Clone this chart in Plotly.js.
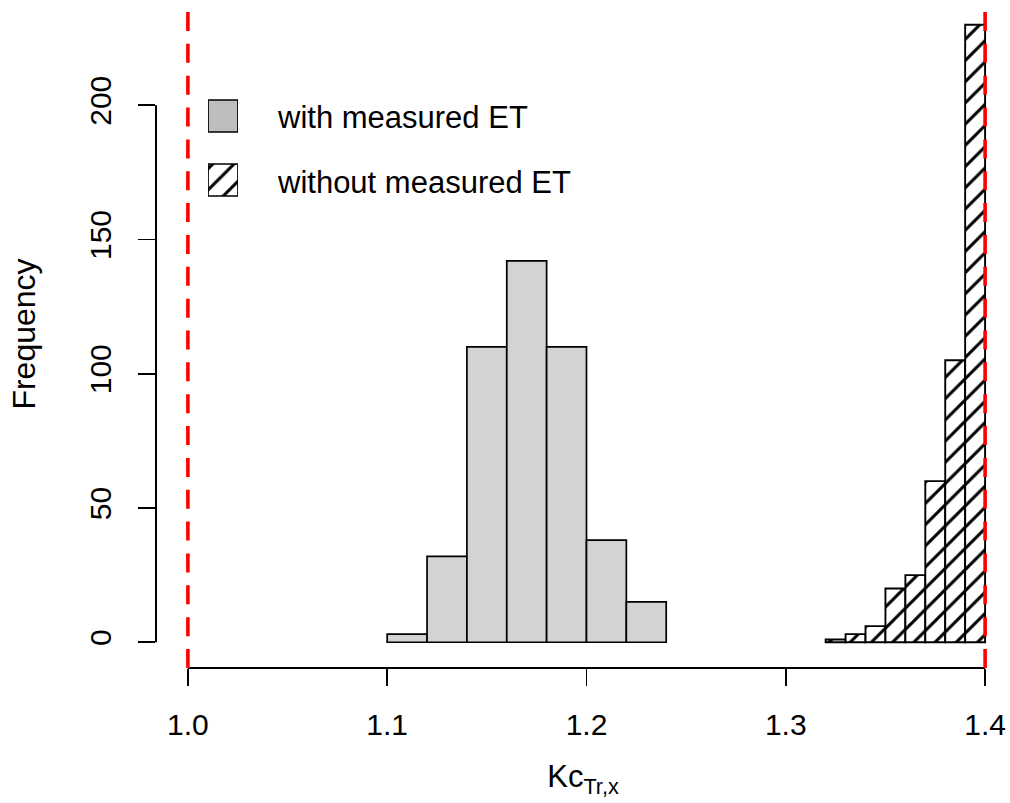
<!DOCTYPE html>
<html>
<head>
<meta charset="utf-8">
<script src="https://cdn.plot.ly/plotly-3.0.1.min.js"></script>
<style>html,body{margin:0;padding:0;background:#fff;}#chart{width:1010px;height:803px;}</style>
</head>
<body>
<div id="chart"></div>
<script>
// ---- data ----
const withBreaks = [1.10, 1.12, 1.14, 1.16, 1.18, 1.20, 1.22, 1.24];
const withCounts = [3, 32, 110, 142, 110, 38, 15];
const withoutBreaks = [1.32, 1.33, 1.34, 1.35, 1.36, 1.37, 1.38, 1.39, 1.40];
const withoutCounts = [1, 3, 6, 20, 25, 60, 105, 230];
const refLines = [1.0, 1.4];
const xTicks = [1.0, 1.1, 1.2, 1.3, 1.4];
const xTickText = ['1.0', '1.1', '1.2', '1.3', '1.4'];
const yTicks = [0, 50, 100, 150, 200];
const legendLabels = ['with measured ET', 'without measured ET'];

const FONT = 'Liberation Sans, Arial, sans-serif';

function centers(b){ const c=[]; for(let i=0;i<b.length-1;i++) c.push((b[i]+b[i+1])/2); return c; }
function widths(b){ const w=[]; for(let i=0;i<b.length-1;i++) w.push(b[i+1]-b[i]); return w; }

const hatch = {shape: '/', fgcolor: '#000', bgcolor: '#ffffff', size: 15, solidity: 0.2, fgopacity: 1};

const traces = [
  {
    type: 'bar', x: centers(withBreaks), y: withCounts, width: widths(withBreaks),
    marker: {color: '#d3d3d3', line: {color: '#000', width: 1.7}},
    showlegend: false, hoverinfo: 'skip'
  },
  {
    type: 'bar', x: centers(withoutBreaks), y: withoutCounts, width: widths(withoutBreaks),
    marker: {color: '#ffffff', line: {color: '#000', width: 1.9}, pattern: hatch},
    showlegend: false, hoverinfo: 'skip'
  },
  // legend keys (overlay axes)
  {
    type: 'bar', orientation: 'h', x: [1], y: [legendLabels[0]], width: 0.5, base: 0,
    xaxis: 'x2', yaxis: 'y2',
    marker: {color: '#bebebe', line: {color: '#000', width: 1.7}},
    showlegend: false, hoverinfo: 'skip'
  },
  {
    type: 'bar', orientation: 'h', x: [1], y: [legendLabels[1]], width: 0.5, base: 0,
    xaxis: 'x2', yaxis: 'y2',
    marker: {color: '#ffffff', line: {color: '#000', width: 1.7}, pattern: hatch},
    showlegend: false, hoverinfo: 'skip'
  }
];

const shapes = [];
refLines.forEach(v => shapes.push({
  type: 'line', xref: 'x', yref: 'paper', x0: v, x1: v, y0: 0, y1: 1,
  line: {color: '#ff0000', width: 3.6, dash: '19px,12.85px'}, layer: 'above'
}));
// R-style axis lines spanning first..last tick
shapes.push({type: 'line', xref: 'x', yref: 'paper', x0: xTicks[0], x1: xTicks[xTicks.length-1], y0: 0, y1: 0,
  line: {color: '#000', width: 2}, layer: 'below'});
shapes.push({type: 'line', xref: 'paper', yref: 'y', x0: 0, x1: 0, y0: yTicks[0], y1: yTicks[yTicks.length-1],
  line: {color: '#000', width: 2}, layer: 'below'});

const annotations = legendLabels.map(l => ({
  xref: 'x2', yref: 'y2', x: 1, y: l, text: l, showarrow: false,
  xanchor: 'left', yanchor: 'middle', xshift: 37, yshift: -2,
  font: {family: FONT, size: 31, color: '#000'}
}));

const layout = {
  width: 1010, height: 803,
  margin: {l: 156, r: 0, t: 0, b: 135, pad: 0},
  paper_bgcolor: '#fff', plot_bgcolor: '#fff',
  barmode: 'overlay',
  showlegend: false,
  font: {family: FONT, color: '#000'},
  xaxis: {
    range: [0.984, 1.4125], showgrid: false, zeroline: false, showline: false,
    tickmode: 'array', tickvals: xTicks, ticktext: xTickText,
    ticks: 'outside', ticklen: 17, tickwidth: 1.6, tickcolor: '#000',
    tickfont: {family: FONT, size: 30, color: '#000'}, ticklabelstandoff: 13,
    title: {text: 'Kc<sub>Tr,x</sub>', font: {family: FONT, size: 31, color: '#000'}, standoff: 25},
    automargin: false, fixedrange: true
  },
  yaxis: {
    range: [-9.6, 239.2], showgrid: false, zeroline: false, showline: false,
    tickmode: 'array', tickvals: yTicks,
    ticks: 'outside', ticklen: 17, tickwidth: 1.6, tickcolor: '#000',
    tickangle: -90,
    tickfont: {family: FONT, size: 30, color: '#000'}, ticklabelstandoff: 15,
    title: {text: 'Frequency', font: {family: FONT, size: 32, color: '#000'}, standoff: 38},
    automargin: false, fixedrange: true
  },
  xaxis2: {domain: [0.0609, 0.0960], range: [0, 1], anchor: 'y2', visible: false, fixedrange: true},
  yaxis2: {domain: [0.6826, 0.8743], type: 'category', categoryorder: 'array', categoryarray: legendLabels,
    autorange: 'reversed', anchor: 'x2', visible: false, fixedrange: true},
  shapes: shapes,
  annotations: annotations
};

Plotly.newPlot('chart', traces, layout, {displayModeBar: false, staticPlot: true});
</script>
</body>
</html>
